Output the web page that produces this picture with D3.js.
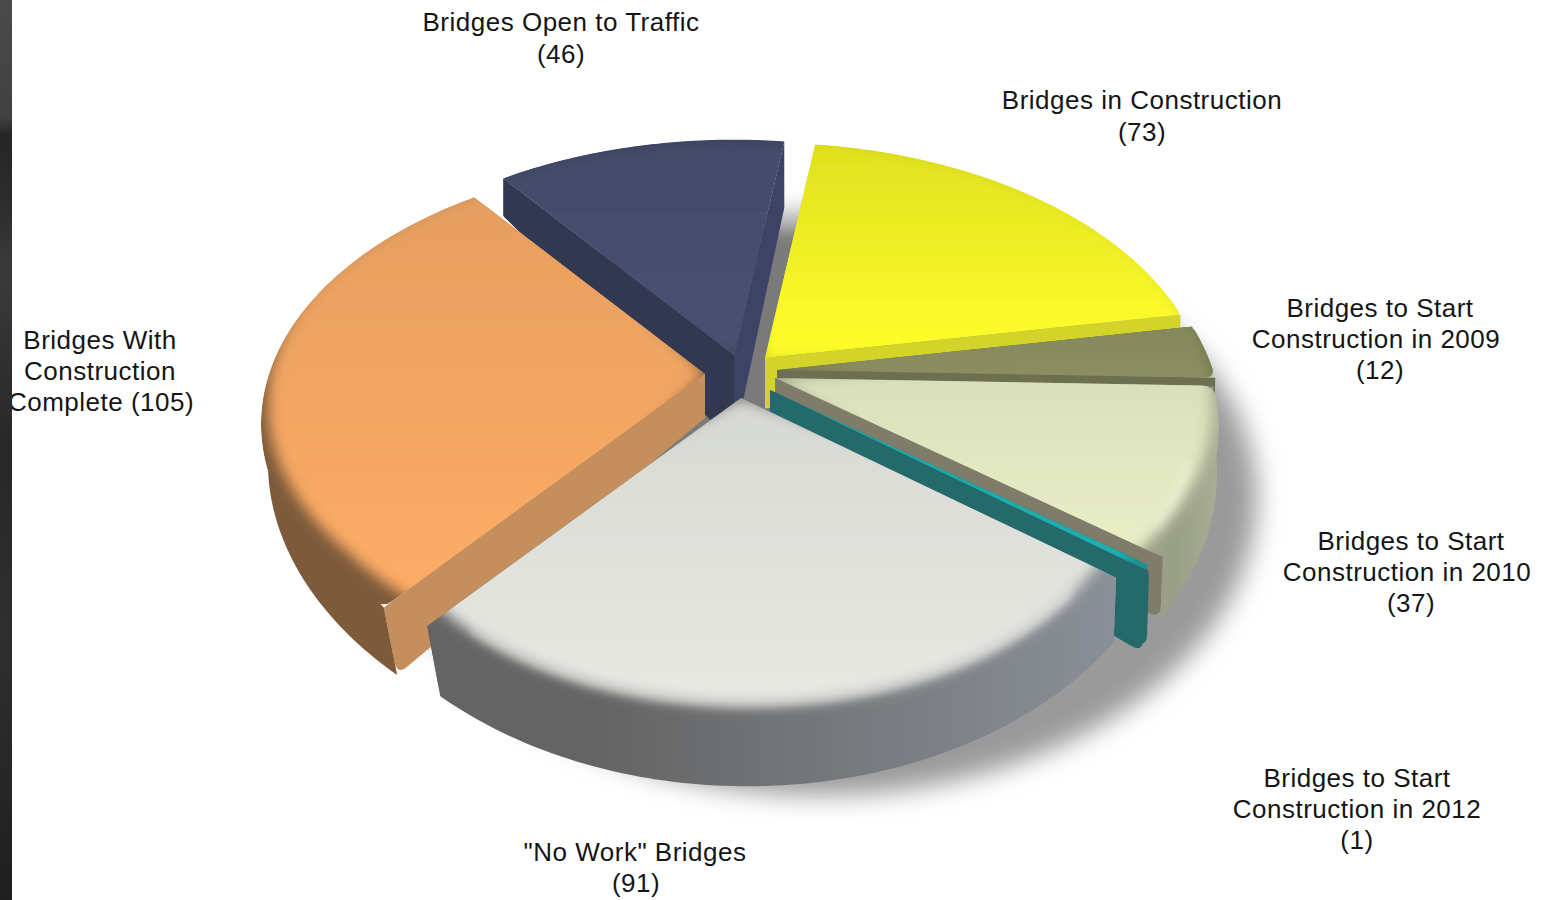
<!DOCTYPE html>
<html>
<head>
<meta charset="utf-8">
<style>
  html, body { margin: 0; padding: 0; background: #fff; overflow: hidden; }
  text { font-family: "Liberation Sans", Arial, sans-serif; font-size: 26px; letter-spacing: 0.5px; fill: #151515; text-anchor: middle; }
</style>
<script src="https://cdnjs.cloudflare.com/ajax/libs/d3/7.8.5/d3.min.js"></script>
</head>
<body>
<svg id="chart" width="1543" height="900"></svg>
<script>
// Bridge programme status, counted by stage
const categories = [
  ["Bridges Open to Traffic"],
  ["Bridges in Construction"],
  ["Bridges to Start", "Construction in 2009"],
  ["Bridges to Start", "Construction in 2010"],
  ["Bridges to Start", "Construction in 2012"],
  ["\"No Work\" Bridges"],
  ["Bridges With", "Construction", "Complete"]
];
const values = [46, 73, 12, 37, 1, 91, 105];

// Per-slice appearance: far/near top colours, rim, cut faces, outer wall (left, right)
const topFar   = ["#434a69", "#e0e01e", "#84885c", "#d9dfb8", "#1fa5a5", "#d6d8d2", "#e59e60"];
const topNear  = ["#4a5172", "#ffff2c", "#8a8e62", "#eaefc8", "#1fb0b0", "#e8e9e2", "#ffad66"];
const rimFar   = ["#2f344c", "#c9c922", "#6e7249", "#b4b89c", "#1f8f8f", "#6c6c6e", "#b88650"];
const rimNear  = ["#3f4664", "#d8d826", "#6e7249", "#a4a890", "#1f8f8f", "#7a7c80", "#7c5a3a"];
const cutStart = ["#323850", "#cccc20", "#74784f", "#7f7c6a", "#256a6a", "#8a9098", "#c48f5c"];
const cutEnd   = ["#3d4364", "#d3d329", "#6c7050", "#7f7c6a", "#256a6a", "#646464", "#c48f5c"];
const wallA    = ["#3c4260", "#b8b820", "#6c7050", "#9aa088", "#256a6a", "#646464", "#7c5a3a"];
const wallB    = ["#3c4260", "#c9c922", "#74784f", "#a8ad94", "#256a6a", "#8a9098", "#7c5a3a"];
const showWall = [false, false, false, true, false, true, true];
const rimFromWall = [false, false, false, true, false, true, false];

// Screen position of each slice's tip after being pulled away from the centre
const tips = [[734, 355], [765, 358], [777, 370], [775, 378], [770, 390], [741, 398], [705, 374]];
const reach = [1, 1, 1, 1, 0.98, 0.98, 1];
const faceBulge = [0, 0, 0, 0, 0, 0.05, 0];
const apexDepth = [2.0, 1.15, 1, 1, 1, 1, 1];
const depthScale = [1, 1, 1, 1, 1.35, 1.05, 1];
const startCutScale = [1.25, 1, 1, 1, 1, 1, 1];
const endCutScale = [2.4, 1, 1, 1, 1, 1, 1];
const drawOrder = [0, 1, 2, 3, 4, 6, 5];

// Where each label sits: centre x, first baseline, line spacing, and small per-line nudges
const labelAnchors = [[561, 31], [1142, 109], [1380, 317], [1411, 550], [1357, 787], [635, 861], [100, 349]];
const lineSteps = [32, 32, 31, 31, 31, 31, 31];
const lineNudges = [[0, 0], [0, 0], [0, -4, 0], [0, -4, 0], [0, 0, 0], [0, 1], [0, 0, 1]];

const RX = 436, RY = 256, PERSP = 0.189, DEPTH = 44;

const svg = d3.select("#chart");
const defs = svg.append("defs");

function soften(id, sd) {
  defs.append("filter").attr("id", id)
    .attr("filterUnits", "userSpaceOnUse")
    .attr("x", 0).attr("y", 0).attr("width", 1543).attr("height", 900)
    .append("feGaussianBlur").attr("stdDeviation", sd);
}
soften("softTop", 7);
soften("softGlow", 4);
soften("softShadowWide", 13);
soften("softShadowCore", 6);

// Tilted-disc projection: near points get larger; lower layers shift depending on nearness
function project(tip, angle, r, z, scale = 1) {
  const u = Math.sin(angle) * r, v = Math.cos(angle) * r;
  const s = 1 / (1 + PERSP * v);
  const x = RX * u * s;
  const near = Math.max(0, Math.min(1, 0.25 - 0.9 * v));
  return [
    tip[0] + x + z * near * (6.2 - 0.0246 * x),
    tip[1] - RY * v * s + z * scale * DEPTH * Math.pow(s, 2.7)
  ];
}

const line = d3.line();
const arcPts = (tip, a0, a1, r, z, scale) => {
  const n = Math.max(2, Math.ceil(Math.abs(a1 - a0) * 60));
  return d3.range(n + 1).map(i => project(tip, a0 + (a1 - a0) * i / n, r, z, scale));
};
const wedge = (tip, a0, a1, r) => line([tip].concat(arcPts(tip, a0, a1, r, 0))) + "Z";

// Outer wall; mid-span its upper edge tucks under the top face so no seam shows
const band = (tip, a0, a1, r, scale) => {
  const n = Math.max(2, Math.ceil(Math.abs(a1 - a0) * 60));
  const upper = d3.range(n + 1).map(k => {
    const t = k / n;
    const tuck = 0.03 * Math.min(1, t * 12, (1 - t) * 12);
    return project(tip, a0 + (a1 - a0) * t, r * (1 - tuck), 0);
  });
  return line(upper.concat(arcPts(tip, a1, a0, r, 1, scale))) + "Z";
};

// Radius multiplier swelling the near rim of a face towards mid-span
const swell = (a, a0, a1, b) => {
  const t = Math.max(0, Math.min(1, (a - a0) / (a1 - a0)));
  return 1 + b * 4 * t * (1 - t);
};

const faceArc = (tip, a0, a1, r, b, from = a0, to = a1) => {
  const n = Math.max(2, Math.ceil(Math.abs(to - from) * 60));
  return d3.range(n + 1).map(k => {
    const a = from + (to - from) * k / n;
    return project(tip, a, r * swell(a, a0, a1, b), 0);
  });
};

// Top-face outline whose bevel is broad on the near side and nearly gone on the far side
function bevelWedge(tip, a0, a1, r, b, lap) {
  const from = a0 - lap, to = a1 + lap;
  const n = Math.max(2, Math.ceil((to - from) * 60));
  const pts = d3.range(n + 1).map(k => {
    const a = from + (to - from) * k / n;
    const near = Math.max(0, Math.min(1, (0.35 - Math.cos(a)) / 1.0));
    return project(tip, a, r * swell(a, a0, a1, b) * (1.02 - 0.07 * near), 0);
  });
  return line([tip].concat(pts)) + "Z";
}

// Polygon with softened corners; radius is given per vertex
function rounded(points, radius) {
  const n = points.length, ctx = d3.path();
  points.forEach((p, i) => {
    const prev = points[(i + n - 1) % n], next = points[(i + 1) % n];
    const r = radius[i];
    const d1 = Math.hypot(prev[0] - p[0], prev[1] - p[1]), d2 = Math.hypot(next[0] - p[0], next[1] - p[1]);
    const a = [p[0] + (prev[0] - p[0]) * r / d1, p[1] + (prev[1] - p[1]) * r / d1];
    const b = [p[0] + (next[0] - p[0]) * r / d2, p[1] + (next[1] - p[1]) * r / d2];
    if (i === 0) ctx.moveTo(a[0], a[1]); else ctx.lineTo(a[0], a[1]);
    ctx.quadraticCurveTo(p[0], p[1], b[0], b[1]);
  });
  ctx.closePath();
  return ctx.toString();
}

const cornerRadius = a => { const v = Math.cos(a); return v < 0.1 ? 11 : v < 0.3 ? 5 : 0; };

// Slice outline with the outer corners eased where they face the viewer
function softWedge(tip, a0, a1, r, b) {
  const step = 0.03;
  if (a1 - a0 < step * 4) return wedge(tip, a0, a1, r);
  const inner = faceArc(tip, a0, a1, r, b, a0 + step, a1 - step);
  const pts = [tip, project(tip, a0, r, 0), ...inner, project(tip, a1, r, 0)];
  const radii = pts.map(() => 0);
  radii[1] = cornerRadius(a0); radii[pts.length - 1] = cornerRadius(a1);
  return rounded(pts, radii);
}

const pie = d3.pie().sort(null).value(d => d)
  .startAngle(-37.5 * Math.PI / 180)
  .endAngle(322.5 * Math.PI / 180);
const slices = pie(values);

// Cast shadow: a soft pool to the lower right and a solid core seen through the gaps
const ring = (tip, r) => line(arcPts(tip, 0, 2 * Math.PI, r, 1)) + "Z";
svg.append("path").attr("d", ring([815, 402], 1)).attr("fill", "#9a9a9a").attr("filter", "url(#softShadowWide)");
svg.append("path").attr("d", ring([790, 392], 0.85)).attr("fill", "#7a7a7a").attr("filter", "url(#softShadowCore)");

drawOrder.forEach(i => {
  const d = slices[i], tip = tips[i], a0 = d.startAngle, a1 = d.endAngle;
  const R = reach[i], scale = depthScale[i], bulge = faceBulge[i];
  const g = svg.append("g").attr("class", "slice");

  const rimPts = arcPts(tip, a0, a1, R, 0);
  const ys = rimPts.map(p => p[1]), xs = rimPts.map(p => p[0]);
  const yMin = Math.min(tip[1], d3.min(ys)), yMax = Math.max(tip[1], d3.max(ys));

  const vertical = (id, c0, c1, midStop) => {
    const lg = defs.append("linearGradient").attr("id", id)
      .attr("gradientUnits", "userSpaceOnUse")
      .attr("x1", 0).attr("x2", 0).attr("y1", yMin).attr("y2", yMax);
    lg.append("stop").attr("offset", 0).attr("stop-color", c0);
    lg.append("stop").attr("offset", midStop).attr("stop-color", c1);
  };
  vertical("top" + i, topFar[i], topNear[i], 1);
  vertical("rim" + i, rimFar[i], rimNear[i], 0.5);

  const gw = defs.append("linearGradient").attr("id", "wall" + i)
    .attr("gradientUnits", "userSpaceOnUse")
    .attr("y1", 0).attr("y2", 0)
    .attr("x1", d3.min(xs)).attr("x2", d3.max(xs));
  gw.append("stop").attr("offset", 0.25).attr("stop-color", wallA[i]);
  gw.append("stop").attr("offset", 1).attr("stop-color", wallB[i]);

  // Flat faces exposed by pulling the slice out, then the outer wall in front of them
  const sliver = a1 - a0 < 0.1;
  [[a0, cutStart[i], startCutScale[i]], [a1, cutEnd[i], endCutScale[i]]].forEach(([a, fill, k]) => {
    const top = project(tip, a, R, 0), low = project(tip, a, R, 1, scale * k);
    const tipLow = [tip[0], tip[1] + DEPTH * apexDepth[i]];
    g.append("path")
      .attr("d", rounded([tip, top, low, tipLow], [0, sliver ? 13 : 0, cornerRadius(a) ? 13 : 1, 0]))
      .attr("fill", fill);
  });
  if (showWall[i]) g.append("path").attr("d", band(tip, a0, a1, R, scale)).attr("fill", `url(#wall${i})`);

  // Top face: bevel colour first, blurred face over it, all inside the crisp outline
  defs.append("clipPath").attr("id", "face" + i)
    .append("path").attr("d", softWedge(tip, a0, a1, R, bulge));

  const face = g.append("g").attr("clip-path", `url(#face${i})`);
  face.append("path").attr("d", line([tip].concat(faceArc(tip, a0, a1, R, bulge))) + "Z")
    .attr("fill", rimFromWall[i] ? `url(#wall${i})` : `url(#rim${i})`);
  face.append("path")
    .attr("d", bevelWedge(tip, a0, a1, R, bulge, 0.15))
    .attr("fill", `url(#top${i})`)
    .attr("filter", "url(#softTop)");
  if (i === 3 || i === 5) {
    face.append("path")
      .attr("d", line(faceArc(tip, a0, a1, R * 0.945, bulge, a0 + (i === 3 ? 0.3 : 0.1), a1 - 0.08)))
      .attr("fill", "none").attr("stroke", "#fbfcf8").attr("stroke-width", 5)
      .attr("stroke-opacity", 0.5).attr("filter", "url(#softGlow)");
  }
});

// Category labels, each closing with its count
slices.forEach((d, i) => {
  const lines = categories[i].slice();
  if (lines.length === 3) lines[2] += ` (${d.data})`;
  else lines.push(`(${d.data})`);
  const [cx, y0] = labelAnchors[i];
  const t = svg.append("text");
  lines.forEach((s, k) => t.append("tspan")
    .attr("x", cx + lineNudges[i][k])
    .attr("y", y0 + k * lineSteps[i])
    .text(s));
});

// Dark strip along the left edge of the page
const strip = defs.append("linearGradient").attr("id", "strip")
  .attr("gradientUnits", "userSpaceOnUse").attr("x1", 0).attr("x2", 0).attr("y1", 0).attr("y2", 900);
[[0, "#4a4a4a"], [0.13, "#414141"], [0.15, "#252525"], [0.22, "#2c2c2c"], [0.3, "#3a3a3a"],
 [0.5, "#272727"], [0.7, "#2f2f2f"], [1, "#1f1f1f"]].forEach(([o, c]) =>
  strip.append("stop").attr("offset", o).attr("stop-color", c));
svg.append("rect").attr("x", 0).attr("y", 0).attr("width", 12).attr("height", 900).attr("fill", "url(#strip)");
</script>
</body>
</html>
